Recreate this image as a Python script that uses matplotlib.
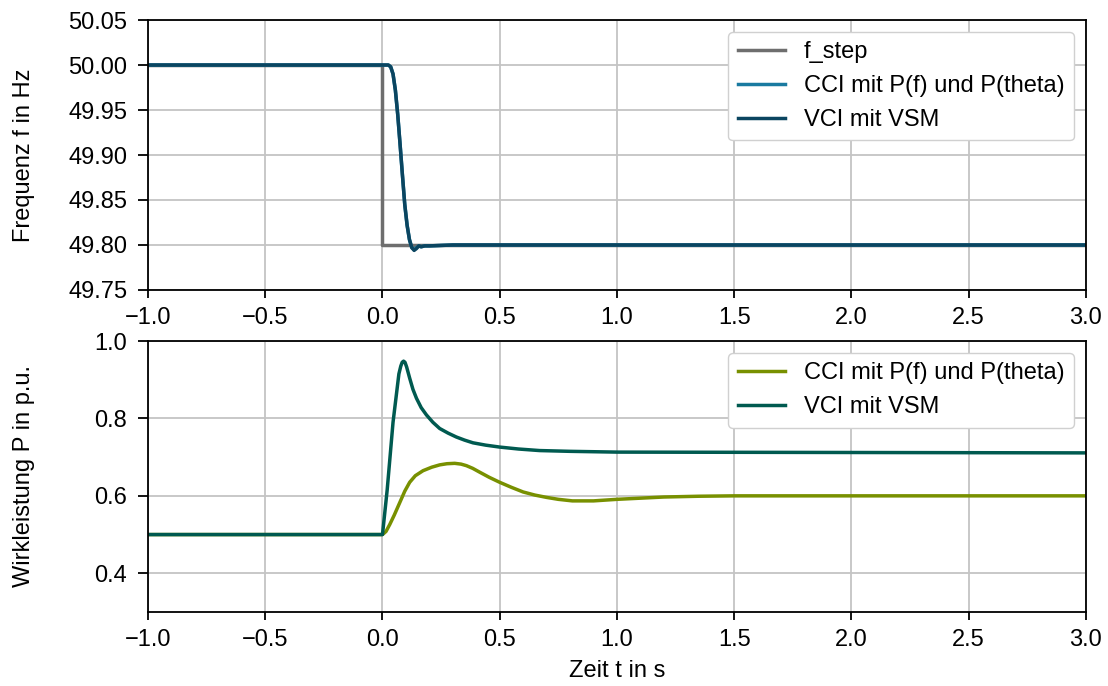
import matplotlib.pyplot as plt

plt.rcParams['font.family'] = ['Liberation Sans', 'DejaVu Sans']
plt.rcParams['font.size'] = 17

########################
# donnees
########################
# frequence
t_step = [-1.0, 0.0, 0.0, 3.0]
f_step = [50.0, 50.0, 49.8, 49.8]

t_f = [-1.0, 0.025, 0.035, 0.045, 0.055, 0.065, 0.075, 0.085, 0.095, 0.105,
       0.115, 0.125, 0.135, 0.145, 0.155, 0.165, 0.18, 0.2, 0.3, 3.0]
f_cci = [50.0, 50.0, 49.998, 49.99, 49.972, 49.945, 49.912, 49.878, 49.845, 49.822,
         49.806, 49.797, 49.795, 49.797, 49.799, 49.798, 49.799, 49.799, 49.8, 49.8]
f_vci = [50.0, 50.0, 49.998, 49.99, 49.972, 49.945, 49.912, 49.878, 49.845, 49.822,
         49.806, 49.797, 49.794, 49.796, 49.799, 49.798, 49.799, 49.799, 49.8, 49.8]

# puissance active
t_vci = [-1.0, 0.0, 0.02, 0.045, 0.07, 0.078, 0.084, 0.09, 0.096, 0.103, 0.116,
         0.13, 0.145, 0.165, 0.1875, 0.215, 0.244, 0.28, 0.315, 0.35, 0.386,
         0.44, 0.5, 0.58, 0.67, 0.8, 1.0, 2.0, 3.0]
p_vci = [0.5, 0.5, 0.615, 0.79, 0.915, 0.935, 0.945, 0.948, 0.945, 0.933, 0.904,
         0.875, 0.852, 0.828, 0.809, 0.79, 0.774, 0.762, 0.752, 0.744, 0.737,
         0.731, 0.726, 0.721, 0.717, 0.715, 0.713, 0.712, 0.711]

t_cci = [-1.0, 0.0, 0.015, 0.031, 0.05, 0.074, 0.095, 0.116, 0.14, 0.173, 0.21,
         0.244, 0.275, 0.308, 0.335, 0.358, 0.385, 0.415, 0.455, 0.5, 0.55,
         0.6, 0.65, 0.7, 0.75, 0.81, 0.9, 1.0, 1.1, 1.2, 1.35, 1.5, 2.0, 3.0]
p_cci = [0.5, 0.5, 0.508, 0.526, 0.55, 0.583, 0.612, 0.635, 0.652, 0.665, 0.674,
         0.68, 0.683, 0.684, 0.682, 0.678, 0.671, 0.661, 0.648, 0.635, 0.622,
         0.61, 0.602, 0.596, 0.591, 0.587, 0.587, 0.591, 0.594, 0.597, 0.599, 0.6, 0.6, 0.6]

##########
# figure
##########
fig = plt.figure(figsize=(11.08, 6.86), dpi=100)
ax1 = fig.add_axes([0.1336, 0.5773, 0.8464, 0.3935])
ax2 = fig.add_axes([0.1336, 0.1079, 0.8464, 0.3950])

lw = 2.5
ax1.plot(t_step, f_step, color="#6e6e6e", lw=lw, label="f_step")
ax1.plot(t_f, f_cci, color="#1a7aa0", lw=lw, label="CCI mit P(f) und P(theta)")
ax1.plot(t_f, f_vci, color="#0b4560", lw=lw, label="VCI mit VSM")
ax1.set_ylim(49.75, 50.05)
yt = [49.75, 49.80, 49.85, 49.90, 49.95, 50.00, 50.05]
ax1.set_yticks(yt)
ax1.set_yticklabels(["%.2f" % v for v in yt])
ax1.set_ylabel("Frequenz f in Hz")

ax2.plot(t_cci, p_cci, color="#789000", lw=lw, label="CCI mit P(f) und P(theta)")
ax2.plot(t_vci, p_vci, color="#005a50", lw=lw, label="VCI mit VSM")
ax2.set_ylim(0.3, 1.0)
ax2.set_yticks([0.4, 0.6, 0.8, 1.0])
ax2.set_ylabel("Wirkleistung P in p.u.")
ax2.set_xlabel("Zeit t in s", labelpad=7)

for ax in (ax1, ax2):
    ax.set_xlim(-1.0, 3.0)
    ax.set_xticks([-1.0, -0.5, 0.0, 0.5, 1.0, 1.5, 2.0, 2.5, 3.0])
    ax.grid(True, color="#c4c4c4", lw=1.3)
    ax.set_axisbelow(True)
    ax.tick_params(axis="x", length=6, width=1.3, pad=6)
    ax.tick_params(axis="y", length=7.5, width=1.3, pad=7.5)
    for s in ax.spines.values():
        s.set_linewidth(1.3)
    ax.yaxis.set_label_coords(-0.1205, 0.5)
    ax.legend(loc="upper right", framealpha=1.0, edgecolor="#d0d0d0")

fig.savefig("out.png", dpi=100)
